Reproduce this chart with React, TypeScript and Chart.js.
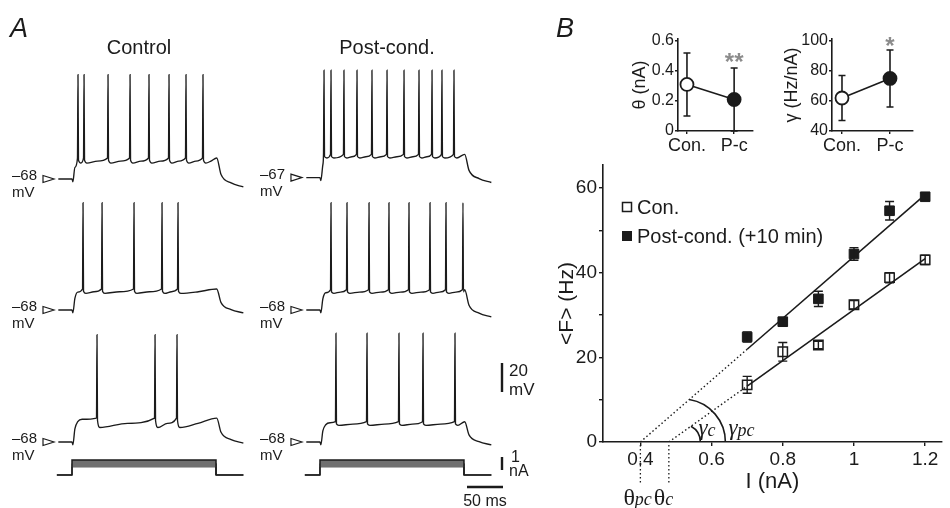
import React, { useEffect, useRef } from 'react';
import { Chart, registerables } from 'chart.js';

Chart.register(...registerables);

const SANS = '"Liberation Sans", Arial, Helvetica, sans-serif';
const SERIF = '"Liberation Serif", "DejaVu Serif", "Times New Roman", serif';
const INK = '#1b1b1b';
const STAR_GREY = '#8c8c8c';
Chart.defaults.font.family = SANS;
Chart.defaults.color = INK;

// ---------------- Panel B : f–I relation ----------------
const CURRENT_NA = [0.7, 0.8, 0.9, 1.0, 1.1, 1.2];
const CON_FREQ_HZ = [13.5, 21.3, 22.9, 32.4, 38.8, 43.0];
const CON_SEM_HZ = [2.0, 2.2, 0.9, 1.0, 1.2, 1.1];
const PC_FREQ_HZ = [24.8, 28.4, 33.8, 44.4, 54.6, 57.9];
const PC_SEM_HZ = [1.2, 1.0, 1.8, 1.5, 2.2, 0.8];
const CON_FIT_X = [0.48, 0.7, 1.2];
const CON_FIT_Y = [0, 13.2, 43.3];
const PC_FIT_X = [0.4, 0.7, 1.2];
const PC_FIT_Y = [0, 21.9, 58.4];
const FI_X_TICKS = [0.4, 0.6, 0.8, 1.0, 1.2];
const FI_Y_TICKS = [0, 10, 20, 30, 40, 50, 60];
const FI_Y_LABELS = [0, 20, 40, 60];
const FI_LEGEND = ['Con.', 'Post-cond. (+10 min)'];
const ARC_CENTER_NA = 0.518;

// ---------------- Panel B insets ----------------
const GROUPS = ['Con.', 'P-c'];
const THETA_NA = [0.31, 0.21];
const THETA_SD = [0.21, 0.21];
const GAMMA_HZ_PER_NA = [62, 75];
const GAMMA_SD = [15, 19];
const THETA_TICKS = [0, 0.2, 0.4, 0.6];
const GAMMA_TICKS = [40, 60, 80, 100];
const THETA_SIG = '**';
const GAMMA_SIG = '*';

// ---------------- Panel A : voltage traces ----------------
const COLUMN_TITLES = ['Control', 'Post-cond.'];
const STEP_MS = 200;
const STEP_NA = [1.15, 0.88, 0.62];
const CTRL_SPIKES_MS = [
  [8.3, 16.7, 50, 80.6, 106.9, 134.7, 158.3, 181.9],
  [15.3, 41.7, 86.1, 125, 147.2],
  [34.7, 115.3, 145.8],
];
const PC_SPIKES_MS = [
  [5.6, 15.3, 33.3, 51.4, 72.2, 93.1, 116.7, 137.5, 155.6, 169.4, 186.1],
  [15.3, 37.5, 68.1, 95.8, 123.6, 152.8, 175, 198.6],
  [22.2, 65.3, 109.7, 143.1, 187.5],
];
const CTRL_REST_MV = [-68, -68, -68];
const CTRL_PRE_MV = [-53.5, -53.5, -51.5];
const CTRL_AHP_MV = [-57, -56.5, -58];
const CTRL_PEAK_MV = [4, 6, 6];
const CTRL_END_MV = [-73.5, -70, -68.7];
const PC_REST_MV = [-67, -68, -68];
const PC_PRE_MV = [-51, -54, -54];
const PC_AHP_MV = [-53.5, -56.5, -56.5];
const PC_PEAK_MV = [7, 6, 7];
const PC_END_MV = [-70.4, -72.8, -70];
const SCALE_MV = 20;
const SCALE_NA = 1;
const SCALE_MS = 50;

// layout (not data)
const ROW_OFFSET_MV = [-55.45, -145.79, -236.83];
const COL_T0_MS = [0, 344.4];

function buildTrace(spikes, rest, pre, ahp, peak, end, t0, off) {
  const pts = [];
  const add = (t, v) => pts.push({ x: t + t0, y: v + off });
  add(-19, rest);
  add(0, rest);
  add(1.2, rest - 2);
  const first = spikes[0];
  [[4, 0.55], [8, 0.85], [14, 0.95]].forEach(([t, f]) => {
    if (t < first - 1.5) add(t, rest + (pre - rest) * f);
  });
  spikes.forEach((ts, i) => {
    const next = i < spikes.length - 1 ? spikes[i + 1] : STEP_MS;
    add(ts - 0.7, pre);
    add(ts, peak);
    add(ts + 0.7, pre - 1.5);
    if (next - ts > 7) add(ts + 4, ahp);
    if (next - ts > 18) add((ts + 4 + next) / 2, (ahp + pre) / 2 - 0.4);
  });
  add(STEP_MS + 1, pre);
  add(STEP_MS + 7, end + 0.43 * (pre - end));
  add(STEP_MS + 21, end + 0.14 * (pre - end));
  add(STEP_MS + 38, end);
  return pts;
}

function text(ctx, s, x, y, font, align = 'left', baseline = 'alphabetic', color = INK) {
  ctx.font = font;
  ctx.textAlign = align;
  ctx.textBaseline = baseline;
  ctx.fillStyle = color;
  ctx.fillText(s, x, y);
}

const panelAPlugin = {
  id: 'panelA',
  afterDraw(chart) {
    const { ctx } = chart;
    const xs = chart.scales.x;
    const ys = chart.scales.y;
    const yi = chart.scales.yI;
    ctx.save();
    text(ctx, 'A', 10, 37, `italic 27px ${SANS}`);
    text(ctx, 'B', 556, 37, `italic 27px ${SANS}`);
    const cols = [{ rest: CTRL_REST_MV }, { rest: PC_REST_MV }];
    cols.forEach((c, ci) => {
      const onset = xs.getPixelForValue(COL_T0_MS[ci]);
      text(ctx, COLUMN_TITLES[ci], onset + 67, 54, `20px ${SANS}`, 'center');
      c.rest.forEach((rest, r) => {
        const py = ys.getPixelForValue(rest + ROW_OFFSET_MV[r]);
        text(ctx, '\u2013' + Math.abs(rest), onset - 60, py + 1, `15px ${SANS}`);
        text(ctx, 'mV', onset - 60, py + 18, `15px ${SANS}`);
        ctx.strokeStyle = INK;
        ctx.lineWidth = 1.2;
        ctx.beginPath();
        ctx.moveTo(onset - 29, py - 3.5);
        ctx.lineTo(onset - 18, py);
        ctx.lineTo(onset - 29, py + 3.5);
        ctx.closePath();
        ctx.stroke();
      });
    });
    // scale bars
    ctx.strokeStyle = INK;
    ctx.lineWidth = 2.4;
    const mvLen = ys.getPixelForValue(0) - ys.getPixelForValue(SCALE_MV);
    const naLen = yi.getPixelForValue(0) - yi.getPixelForValue(SCALE_NA);
    const msLen = xs.getPixelForValue(SCALE_MS) - xs.getPixelForValue(0);
    const bx = 502;
    ctx.beginPath();
    ctx.moveTo(bx, 392);
    ctx.lineTo(bx, 392 - mvLen);
    ctx.moveTo(bx, 470);
    ctx.lineTo(bx, 470 - naLen);
    ctx.moveTo(bx + 1, 487);
    ctx.lineTo(bx + 1 - msLen, 487);
    ctx.stroke();
    text(ctx, String(SCALE_MV), bx + 7, 376, `17px ${SANS}`);
    text(ctx, 'mV', bx + 7, 395, `17px ${SANS}`);
    text(ctx, String(SCALE_NA), bx + 9, 462, `16px ${SANS}`);
    text(ctx, 'nA', bx + 7, 476, `16px ${SANS}`);
    text(ctx, `${SCALE_MS} ms`, bx + 1 - msLen / 2, 506, `16px ${SANS}`, 'center');
    ctx.restore();
  },
};

function panelAConfig() {
  const datasets = [];
  const cols = [
    { spikes: CTRL_SPIKES_MS, rest: CTRL_REST_MV, pre: CTRL_PRE_MV, ahp: CTRL_AHP_MV, peak: CTRL_PEAK_MV, end: CTRL_END_MV },
    { spikes: PC_SPIKES_MS, rest: PC_REST_MV, pre: PC_PRE_MV, ahp: PC_AHP_MV, peak: PC_PEAK_MV, end: PC_END_MV },
  ];
  cols.forEach((c, ci) => {
    for (let r = 0; r < 3; r++) {
      datasets.push({
        data: buildTrace(c.spikes[r], c.rest[r], c.pre[r], c.ahp[r], c.peak[r], c.end[r], COL_T0_MS[ci], ROW_OFFSET_MV[r]),
        yAxisID: 'y',
        borderColor: INK,
        borderWidth: 1.35,
        pointRadius: 0,
        cubicInterpolationMode: 'monotone',
        fill: false,
      });
    }
  });
  COL_T0_MS.forEach((t0) => {
    STEP_NA.forEach((amp, k) => {
      datasets.push({
        data: [[-21, 0], [0, 0], [0, amp], [STEP_MS, amp], [STEP_MS, 0], [STEP_MS + 38, 0]].map(([t, i]) => ({ x: t + t0, y: i })),
        yAxisID: 'yI',
        borderColor: k === 0 ? INK : '#4a4a4a',
        borderWidth: k === 0 ? 1.5 : 1,
        pointRadius: 0,
        tension: 0,
        fill: k === 0 ? '+2' : false,
        backgroundColor: '#707070',
      });
    });
  });
  return {
    type: 'line',
    data: { datasets },
    options: {
      responsive: false,
      animation: false,
      layout: { padding: 0 },
      plugins: { legend: { display: false }, tooltip: { enabled: false } },
      scales: {
        x: { type: 'linear', display: false, min: -100, max: 733.33 },
        y: { type: 'linear', display: false, min: -350.34, max: 0 },
        yI: { type: 'linear', display: false, min: -2.54, max: 36.54 },
      },
    },
    plugins: [panelAPlugin],
  };
}

function arcEndAngle(cx, cy, R, x0, y0, x1, y1) {
  const side = (a) => {
    const px = cx + R * Math.cos(a);
    const py = cy - R * Math.sin(a);
    return (x1 - x0) * (py - y0) - (y1 - y0) * (px - x0);
  };
  let lo = 0.0001;
  let hi = Math.PI / 2;
  const sLo = Math.sign(side(lo));
  for (let k = 0; k < 60; k++) {
    const mid = (lo + hi) / 2;
    if (Math.sign(side(mid)) === sLo) lo = mid;
    else hi = mid;
  }
  return (lo + hi) / 2;
}

const fiPlugin = {
  id: 'fiExtras',
  afterDatasetsDraw(chart) {
    const { ctx } = chart;
    const x = chart.scales.x;
    const y = chart.scales.y;
    ctx.save();
    ctx.strokeStyle = INK;
    ctx.lineWidth = 1.4;
    const bars = (vals, errs) =>
      CURRENT_NA.forEach((c, i) => {
        const px = x.getPixelForValue(c);
        const t = y.getPixelForValue(vals[i] + errs[i]);
        const b = y.getPixelForValue(vals[i] - errs[i]);
        ctx.beginPath();
        ctx.moveTo(px, t);
        ctx.lineTo(px, b);
        ctx.moveTo(px - 4.5, t);
        ctx.lineTo(px + 4.5, t);
        ctx.moveTo(px - 4.5, b);
        ctx.lineTo(px + 4.5, b);
        ctx.stroke();
      });
    bars(CON_FREQ_HZ, CON_SEM_HZ);
    bars(PC_FREQ_HZ, PC_SEM_HZ);
    ctx.restore();
  },
  afterDraw(chart) {
    const { ctx, chartArea: a } = chart;
    const x = chart.scales.x;
    const y = chart.scales.y;
    ctx.save();
    // legend
    const lx = a.left + 24;
    const ly = [a.top + 42, a.top + 71];
    ctx.strokeStyle = INK;
    ctx.lineWidth = 1.5;
    ctx.strokeRect(lx - 4.5, ly[0] - 4.5, 9, 9);
    ctx.fillStyle = INK;
    ctx.fillRect(lx - 5, ly[1] - 5, 10, 10);
    text(ctx, FI_LEGEND[0], lx + 10, ly[0] + 1, `20px ${SANS}`, 'left', 'middle');
    text(ctx, FI_LEGEND[1], lx + 10, ly[1] + 1, `20px ${SANS}`, 'left', 'middle');
    // arcs
    const axisY = y.getPixelForValue(0);
    const cx = x.getPixelForValue(ARC_CENTER_NA);
    const arcs = [
      { R: 18, fx: CON_FIT_X, fy: CON_FIT_Y, sub: 'c', dx: -2 },
      { R: 43, fx: PC_FIT_X, fy: PC_FIT_Y, sub: 'pc', dx: 3 },
    ];
    ctx.lineWidth = 1.6;
    arcs.forEach((g) => {
      const x0 = x.getPixelForValue(g.fx[0]);
      const x1 = x.getPixelForValue(g.fx[2]);
      const y1 = y.getPixelForValue(g.fy[2]);
      const ang = arcEndAngle(cx, axisY, g.R, x0, axisY, x1, y1);
      ctx.strokeStyle = INK;
      ctx.beginPath();
      ctx.arc(cx, axisY, g.R, -ang, 0);
      ctx.stroke();
      const gx = cx + g.R + g.dx;
      text(ctx, '\u03B3', gx, axisY - 7, `italic 23px ${SERIF}`);
      const w = ctx.measureText('\u03B3').width;
      text(ctx, g.sub, gx + w, axisY - 6, `italic 18px ${SERIF}`);
    });
    // theta markers
    [[PC_FIT_X[0], 'pc', 17], [CON_FIT_X[0], 'c', 15]].forEach(([th, sub, back]) => {
      const px = x.getPixelForValue(th);
      ctx.strokeStyle = INK;
      ctx.lineWidth = 1.3;
      ctx.setLineDash([1.5, 2.5]);
      ctx.beginPath();
      ctx.moveTo(px, axisY + 3);
      ctx.lineTo(px, axisY + 42);
      ctx.stroke();
      ctx.setLineDash([]);
      const left = px - back;
      text(ctx, '\u03B8', left, axisY + 63, `24px ${SERIF}`);
      const w = ctx.measureText('\u03B8').width;
      text(ctx, sub, left + w, axisY + 63, `italic 18px ${SERIF}`);
    });
    ctx.restore();
  },
};

function fiConfig() {
  const pts = (xs, ys) => xs.map((v, i) => ({ x: v, y: ys[i] }));
  const fit = (xs, ys, from, to, dash) => ({
    type: 'line',
    data: pts(xs.slice(from, to + 1), ys.slice(from, to + 1)),
    borderColor: INK,
    borderWidth: dash ? 1.4 : 1.6,
    borderDash: dash ? [1.5, 2.5] : [],
    pointRadius: 0,
    tension: 0,
    fill: false,
    order: 2,
  });
  return {
    type: 'scatter',
    data: {
      datasets: [
        {
          data: pts(CURRENT_NA, CON_FREQ_HZ),
          pointStyle: 'rect',
          pointRadius: 6.6,
          pointHoverRadius: 6.6,
          borderColor: INK,
          backgroundColor: 'rgba(255,255,255,0)',
          borderWidth: 1.5,
          order: 0,
        },
        {
          data: pts(CURRENT_NA, PC_FREQ_HZ),
          pointStyle: 'rect',
          pointRadius: 6.8,
          pointHoverRadius: 6.8,
          borderColor: INK,
          backgroundColor: INK,
          borderWidth: 1,
          order: 0,
        },
        fit(CON_FIT_X, CON_FIT_Y, 1, 2, false),
        fit(CON_FIT_X, CON_FIT_Y, 0, 1, true),
        fit(PC_FIT_X, PC_FIT_Y, 1, 2, false),
        fit(PC_FIT_X, PC_FIT_Y, 0, 1, true),
      ],
    },
    options: {
      responsive: false,
      animation: false,
      layout: { padding: { top: 15, right: 5, bottom: 12, left: 0 } },
      plugins: { legend: { display: false }, tooltip: { enabled: false } },
      scales: {
        x: {
          type: 'linear',
          min: 0.295,
          max: 1.247,
          afterBuildTicks: (s) => {
            s.ticks = FI_X_TICKS.map((value) => ({ value }));
          },
          afterFit: (s) => {
            s.height = 54;
          },
          grid: { drawOnChartArea: false, drawTicks: true, tickLength: 4, color: INK, lineWidth: 1.4 },
          border: { color: INK, width: 1.6 },
          ticks: {
            font: { size: 19 },
            color: INK,
            padding: 2,
            maxRotation: 0,
            autoSkip: false,
            callback: (v) => (v === 1 ? '1' : Number(v).toFixed(1)),
          },
          title: { display: true, text: 'I (nA)', font: { size: 22 }, color: INK, padding: { top: 0, bottom: 1 } },
        },
        y: {
          type: 'linear',
          min: 0,
          max: 65.4,
          afterBuildTicks: (s) => {
            s.ticks = FI_Y_TICKS.map((value) => ({ value }));
          },
          afterFit: (s) => {
            s.width = 50;
          },
          grid: { drawOnChartArea: false, drawTicks: true, tickLength: 4, color: INK, lineWidth: 1.4 },
          border: { color: INK, width: 1.6 },
          ticks: {
            font: { size: 19 },
            color: INK,
            padding: 2,
            autoSkip: false,
            callback: (v) => (FI_Y_LABELS.includes(v) ? String(v) : ''),
          },
          title: { display: true, text: '<F> (Hz)', font: { size: 21 }, color: INK, padding: { top: 2, bottom: 0 } },
        },
      },
    },
    plugins: [fiPlugin],
  };
}

function insetPlugin(means, sds, sig, sigDy) {
  return {
    id: 'insetExtras',
    beforeDatasetsDraw(chart) {
      const { ctx } = chart;
      const x = chart.scales.x;
      const y = chart.scales.y;
      ctx.save();
      ctx.strokeStyle = INK;
      ctx.lineWidth = 1.6;
      means.forEach((m, i) => {
        const px = x.getPixelForValue(i);
        const t = y.getPixelForValue(m + sds[i]);
        const b = y.getPixelForValue(Math.max(m - sds[i], y.min));
        ctx.beginPath();
        ctx.moveTo(px, t);
        ctx.lineTo(px, b);
        ctx.moveTo(px - 3.5, t);
        ctx.lineTo(px + 3.5, t);
        ctx.moveTo(px - 3.5, b);
        ctx.lineTo(px + 3.5, b);
        ctx.stroke();
      });
      ctx.restore();
    },
    afterDraw(chart) {
      const { ctx, chartArea: a } = chart;
      const px = chart.scales.x.getPixelForValue(1);
      ctx.save();
      text(ctx, sig, px, a.top + sigDy, `bold 24px ${SANS}`, 'center', 'alphabetic', STAR_GREY);
      ctx.restore();
    },
  };
}

function insetConfig(means, sds, ticks, yMin, yMax, xMin, xMax, title, sig, sigDy, yWidth, fmt) {
  const grid = { drawOnChartArea: false, drawTicks: true, tickLength: 3, color: INK, lineWidth: 1.4 };
  return {
    type: 'scatter',
    data: {
      datasets: [
        {
          data: means.map((m, i) => ({ x: i, y: m })),
          showLine: true,
          borderColor: INK,
          borderWidth: 1.6,
          pointRadius: 6.5,
          pointHoverRadius: 6.5,
          pointBackgroundColor: ['#ffffff', INK],
          pointBorderColor: INK,
          pointBorderWidth: 1.8,
        },
      ],
    },
    options: {
      responsive: false,
      animation: false,
      layout: { padding: { top: 19, right: 27, bottom: 0, left: 0 } },
      plugins: { legend: { display: false }, tooltip: { enabled: false } },
      scales: {
        x: {
          type: 'linear',
          min: xMin,
          max: xMax,
          afterBuildTicks: (s) => {
            s.ticks = GROUPS.map((_, value) => ({ value }));
          },
          afterFit: (s) => {
            s.height = 29;
          },
          grid,
          border: { color: INK, width: 1.6 },
          ticks: { font: { size: 18 }, color: INK, padding: 1, maxRotation: 0, autoSkip: false, callback: (v, i) => GROUPS[i] },
        },
        y: {
          type: 'linear',
          min: yMin,
          max: yMax,
          afterBuildTicks: (s) => {
            s.ticks = ticks.map((value) => ({ value }));
          },
          afterFit: (s) => {
            s.width = yWidth;
          },
          grid,
          border: { color: INK, width: 1.6 },
          ticks: { font: { size: 16 }, color: INK, padding: 1, autoSkip: false, callback: fmt },
          title: { display: true, text: title, font: { size: 18 }, color: INK, padding: { top: 3, bottom: 0 } },
        },
      },
    },
    plugins: [insetPlugin(means, sds, sig, sigDy)],
  };
}

function ChartCanvas({ left, top, width, height, make }) {
  const ref = useRef(null);
  useEffect(() => {
    const chart = new Chart(ref.current, make());
    return () => chart.destroy();
  }, []);
  return (
    <canvas
      ref={ref}
      width={width}
      height={height}
      style={{ position: 'absolute', left, top, width, height }}
    />
  );
}

export default function App() {
  return (
    <div
      style={{
        position: 'fixed',
        left: 0,
        top: 0,
        width: 950,
        height: 508,
        background: '#ffffff',
        overflow: 'hidden',
      }}
    >
      <ChartCanvas left={0} top={0} width={600} height={508} make={panelAConfig} />
      <ChartCanvas
        left={626}
        top={20}
        width={154}
        height={140}
        make={() =>
          insetConfig(THETA_NA, THETA_SD, THETA_TICKS, 0, 0.613, -0.19, 1.4, '\u03B8 (nA)', THETA_SIG, 31, 52, (v) =>
            v === 0 ? '0' : Number(v).toFixed(1)
          )
        }
      />
      <ChartCanvas
        left={778}
        top={20}
        width={162}
        height={140}
        make={() =>
          insetConfig(GAMMA_HZ_PER_NA, GAMMA_SD, GAMMA_TICKS, 40, 101.3, -0.208, 1.479, '\u03B3 (Hz/nA)', GAMMA_SIG, 15, 54, (v) =>
            String(v)
          )
        }
      />
      <ChartCanvas left={553} top={150} width={397} height={358} make={fiConfig} />
    </div>
  );
}
